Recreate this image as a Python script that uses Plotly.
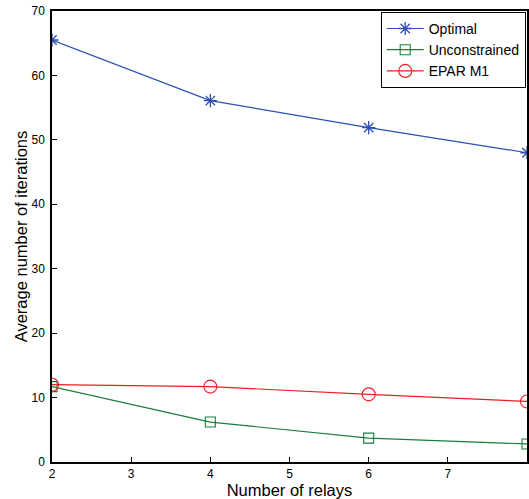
import plotly.graph_objects as go

relays = [2, 4, 6, 8]
optimal = [65.5, 56.1, 51.9, 48.0]
unconstrained = [11.7, 6.2, 3.7, 2.8]
epar_m1 = [12.0, 11.7, 10.5, 9.4]

x_ticks = [2, 3, 4, 5, 6, 7, 8]
y_ticks = [0, 10, 20, 30, 40, 50, 60, 70]

FONT = "Liberation Sans, Arial, Helvetica, sans-serif"

fig = go.Figure()
fig.add_trace(go.Scatter(x=relays, y=optimal, name="Optimal", mode="lines+markers",
                         line=dict(color="#2d4fb4", width=1.2),
                         marker=dict(symbol="asterisk-open", size=11, color="#2d4fb4",
                                     line=dict(width=1.3, color="#2d4fb4"))))
fig.add_trace(go.Scatter(x=relays, y=unconstrained, name="Unconstrained", mode="lines+markers",
                         line=dict(color="#1a7d3a", width=1.2),
                         marker=dict(symbol="square-open", size=10, color="#1a7d3a",
                                     line=dict(width=1.1, color="#1a7d3a"))))
fig.add_trace(go.Scatter(x=relays, y=epar_m1, name="EPAR M1", mode="lines+markers",
                         line=dict(color="#ec1c24", width=1.2),
                         marker=dict(symbol="circle-open", size=13, color="#ec1c24",
                                     line=dict(width=1.1, color="#ec1c24"))))

axis_common = dict(showgrid=False, zeroline=False, showline=True, linecolor="black",
                   linewidth=1.5, mirror=True, ticks="inside", ticklen=5,
                   tickcolor="black", tickwidth=1,
                   tickfont=dict(family=FONT, size=12, color="black"))

fig.update_layout(
    width=529, height=499,
    margin=dict(l=52, r=0, t=11, b=37),
    paper_bgcolor="white", plot_bgcolor="white",
    font=dict(family=FONT, color="black"),
    xaxis=dict(range=[2, 8], tickvals=x_ticks, ticktext=[str(v) for v in x_ticks],
               ticklabelstandoff=0,
               title=dict(text="Number of relays", font=dict(family=FONT, size=16.5), standoff=3),
               **axis_common),
    yaxis=dict(range=[0, 70], tickvals=y_ticks, ticktext=[str(v) for v in y_ticks],
               ticklabelstandoff=3,
               title=dict(text="Average number of iterations", font=dict(family=FONT, size=16.5), standoff=0),
               **axis_common),
    legend=dict(x=0.692, y=0.998, xanchor="left", yanchor="top",
                bgcolor="white", bordercolor="black", borderwidth=1,
                font=dict(family=FONT, size=14), tracegroupgap=0,
                itemwidth=37),
    showlegend=True,
)

fig.write_html("out.html", config={"displayModeBar": False},
               post_script="document.body.style.margin='0';document.body.style.overflow='hidden';")
